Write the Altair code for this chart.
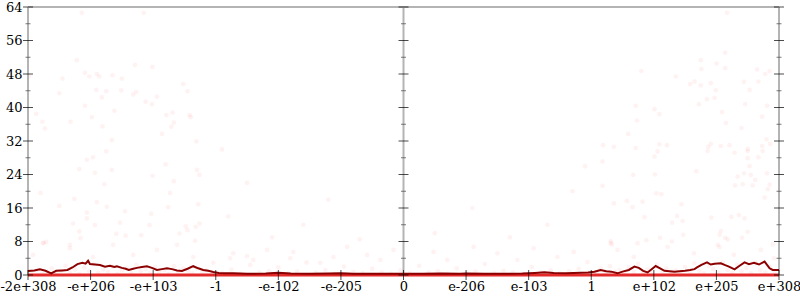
import altair as alt
import pandas as pd

# ---- axis ticks / labels ----
x_tick_values = [-6, -5, -4, -3, -2, -1, 0, 1, 2, 3, 4, 5, 6]
x_tick_labels = ["-2e+308", "-e+206", "-e+103", "-1", "-e-102", "-e-205", "0",
                 "e-206", "e-103", "1", "e+102", "e+205", "e+308"]
y_major = [0, 8, 16, 24, 32, 40, 48, 56, 64]
y_minor = [4, 12, 20, 28, 36, 44, 52, 60]
vertical_axes_at = [-6, 0, 6]

# ---- mean error line ----
line_x = [-6.00, -5.90, -5.81, -5.72, -5.63, -5.55, -5.45, -5.37, -5.29, -5.21, -5.13, -5.08,
          -5.04, -5.01, -4.93, -4.85, -4.77, -4.69, -4.62, -4.58, -4.50, -4.44, -4.39, -4.32,
          -4.26, -4.18, -4.10, -4.02, -3.94, -3.86, -3.78, -3.70, -3.62, -3.54, -3.45, -3.36,
          -3.28, -3.20, -3.12, -3.04, -2.95, -2.85, -2.72, -2.50, -2.20, -2.00, -1.80, -1.50,
          -1.20, -1.00, -0.80, -0.50, -0.20, 0.00, 0.30, 0.60, 0.90, 1.00, 1.30, 1.60, 1.90,
          2.10, 2.25, 2.40, 2.60, 2.83, 2.95, 3.05, 3.15, 3.24, 3.32, 3.42, 3.50, 3.60, 3.69,
          3.76, 3.83, 3.90, 3.96, 4.03, 4.10, 4.17, 4.25, 4.33, 4.41, 4.50, 4.58, 4.65, 4.69,
          4.76, 4.85, 4.91, 4.97, 5.07, 5.13, 5.20, 5.29, 5.37, 5.45, 5.52, 5.60, 5.68, 5.77,
          5.85, 5.90, 6.00]
line_y = [0.95, 1.1, 1.35, 1.0, 0.4, 1.0, 1.1, 1.2, 1.8, 2.6, 2.9, 2.7,
          3.4, 2.6, 2.5, 2.4, 2.0, 2.2, 1.9, 2.1, 1.7, 1.5, 1.2, 1.5,
          1.7, 1.9, 2.1, 1.7, 1.2, 1.4, 1.6, 1.4, 1.1, 0.95, 1.5, 2.1,
          1.6, 1.2, 1.0, 0.7, 0.5, 0.4, 0.4, 0.3, 0.35, 0.55, 0.35, 0.3,
          0.35, 0.4, 0.3, 0.3, 0.3, 0.3, 0.3, 0.35, 0.3, 0.35, 0.3, 0.3, 0.35,
          0.5, 0.65, 0.5, 0.4, 0.55, 0.6, 0.8, 1.2, 0.9, 0.8, 0.4, 0.8, 1.2, 2.0,
          1.7, 1.0, 0.6, 1.3, 2.15, 1.6, 1.0, 0.9, 0.8, 0.9, 1.0, 1.2, 1.4, 1.8,
          2.4, 3.0, 2.5, 2.7, 2.8, 2.4, 2.0, 1.35, 2.2, 3.0, 2.6, 2.9, 2.5, 3.2,
          1.6, 1.2, 1.2]

# ---- sampled error points (scattered, high) ----
pts_x = [-5.14, -4.15, -5.22, -5.09, -4.90, -5.02, -4.86, -4.65, -4.50, -4.29, -4.01, -5.45,
         -5.50, -4.91, -4.75, -4.82, -4.51, -4.32, -4.27, -4.12, -4.02, -3.94, -5.09, -4.62,
         -5.87, -5.77, -5.73, -5.32, -4.98, -4.81, -4.66, -3.86, -3.79, -3.69, -3.67, -3.71,
         -3.42, -3.40, -3.52, -3.45, -3.31, -5.98,
         5.17, 5.14, 4.75, 5.00, 4.76, 5.14, 3.80, 4.35, 5.65, 5.78, 5.85, 4.65, 4.58, 4.75,
         4.91, 5.44, 5.67, 4.99, 5.53, 4.97, 4.85, 4.72, 5.46, 5.81, 3.71, 4.01, 4.09, 5.09,
         5.73, 3.73, 5.15, 5.40, 3.59, 3.19, 3.36, 3.71, 4.09, 4.21, 4.91, 4.87, 5.07, 5.21,
         5.50, 5.73, 5.80, 5.86,
         3.18, 4.01, 4.06, 4.86, 5.29, 5.50, 5.74, 5.50, 5.67, 5.53, 3.67, 4.02, 4.68, 5.34,
         5.44, 5.55, 5.62, 5.81, 5.30, 5.42, 5.58, 5.85, 5.82, 5.77, 3.18, 4.04, 4.12, 3.36,
         3.57, 3.82, 3.66, 4.44, 3.85, 4.37, 4.46, 4.29, 4.92, 5.24, 5.36, 5.45, 5.07, 5.05,
         5.14, 5.18, 5.50, 5.41, 4.47, 4.10, 4.29, 3.88, 3.74, 3.31, 3.33, 5.05, 5.90,
         -4.75, -5.06, -4.96, -5.18, -4.93, -4.66, -4.78, -3.80, -4.01, -3.67, -3.73, -3.30,
         -3.26, -5.80, -5.50, -5.26, -4.90, -4.74, -4.45, -5.06, -5.06, -4.03, -3.76, -3.28,
         -5.28, -4.93, -4.53, -4.06, -5.18, -5.16, -4.59, -4.44, -4.19, -3.58, -3.48, -3.45,
         -3.32, -3.26, -5.75, -5.71, -5.33, -3.33,
         -3.04, -2.77, -2.72, -2.50, -2.40, -2.18, -1.81, -1.76, -1.33, -1.12, -0.90, -0.58,
         -0.37, -0.16, 0.48, 0.70, 1.12, 1.50, 1.82, 2.08, 2.46, 2.72, 2.94, 3.31, 3.42, 3.68,
         4.22, 4.64, 5.02, 5.28, 5.71, 5.92, -5.76, -5.33, -4.64, -4.32, -3.94, -3.62, -3.36,
         -5.92, -4.96,
         -2.80, -2.50, -2.10, -1.60, -1.20, -0.70, 0.50, 1.10, 1.70, 2.30, 2.70, -2.90, 2.90]
pts_y = [62.6, 62.6, 51.3, 48.3, 48.0, 47.4, 47.4, 47.7, 46.9, 50.2, 49.7, 46.9,
         43.4, 44.2, 43.9, 42.4, 44.1, 43.1, 43.7, 41.4, 40.8, 42.6, 40.4, 39.2,
         38.5, 36.6, 35.0, 36.6, 37.7, 35.5, 32.2, 33.7, 38.2, 38.8, 36.4, 35.4,
         38.2, 37.7, 45.6, 43.9, 31.9, 47.5,
         62.6, 53.1, 51.3, 50.5, 49.2, 49.4, 48.7, 47.4, 49.1, 48.0, 48.7, 46.2, 45.6, 45.3,
         45.8, 46.1, 46.2, 44.1, 44.2, 42.3, 42.0, 40.8, 40.8, 40.4, 40.4, 39.6, 38.4, 38.9,
         37.8, 36.9, 36.3, 35.1, 33.7, 31.0, 30.6, 30.3, 31.2, 31.0, 31.3, 30.6, 30.8, 31.0,
         30.1, 30.8, 32.4, 31.3,
         27.1, 28.3, 29.5, 29.6, 29.2, 29.6, 29.6, 27.9, 28.1, 26.0, 23.9, 24.0, 24.8, 23.5,
         24.3, 23.9, 22.7, 24.3, 21.4, 21.7, 21.4, 21.6, 20.5, 18.5, 21.3, 19.5, 19.3, 17.1,
         17.7, 17.5, 16.2, 16.9, 13.8, 14.1, 12.9, 12.5, 13.7, 13.9, 14.3, 13.5, 10.5, 9.6,
         8.9, 8.5, 10.3, 8.9, 9.6, 8.9, 8.0, 8.3, 7.6, 8.1, 7.3, 6.7, 7.3,
         29.5, 27.5, 28.1, 25.3, 24.4, 25.1, 21.7, 26.4, 23.7, 22.4, 19.6, 25.1,
         23.9, 19.6, 16.5, 18.2, 17.4, 16.3, 15.2, 14.9, 13.5, 14.6, 16.2, 16.9,
         12.3, 11.9, 12.5, 11.9, 10.4, 8.8, 9.8, 9.4, 9.5, 9.9, 11.6, 10.7,
         11.5, 12.3, 7.7, 7.9, 7.2, 8.2,
         2.9, 4.0, 5.2, 4.5, 3.6, 6.0, 4.0, 5.5, 2.9, 4.3, 6.7, 4.8,
         3.6, 6.0, 5.5, 3.6, 6.7, 5.2, 3.6, 6.4, 4.3, 5.5, 3.1, 7.6, 6.0, 4.3,
         6.7, 5.2, 7.2, 4.8, 6.0, 4.0, 7.6, 6.4, 7.2, 4.8, 6.0, 7.2, 4.3,
         4.8, 4.3,
         14.0, 22.0, 9.0, 12.0, 18.0, 8.5, 10.0, 16.0, 9.0, 12.0, 20.0, 30.0, 26.0]

# ---- sampled error points (dense, low) ----
low_x = [-5.95, -5.85, -5.78, -5.70, -5.62, -5.55, -5.48, -5.40, -5.33, -5.25, -5.18, -5.10,
         -5.02, -4.95, -4.88, -4.80, -4.72, -4.65, -4.57, -4.50, -4.42, -4.35, -4.27, -4.20,
         -4.12, -4.05, -3.97, -3.90, -3.82, -3.75, -3.67, -3.60, -3.52, -3.44, -3.37, -3.30,
         -3.22, -3.15,
         -2.90, -2.75, -2.60, -2.45, -2.30, -2.15, -2.00, -1.85, -1.70, -1.55, -1.40, -1.25,
         -1.10, -0.95, -0.80, -0.65, -0.50, -0.35, -0.20, -0.05, 0.10, 0.25, 0.40, 0.55, 0.70,
         0.85, 1.00, 1.15, 1.30, 1.45, 1.60, 1.75, 1.90, 2.05, 2.20, 2.35, 2.50, 2.65, 2.80,
         2.95,
         3.08, 3.15, 3.23, 3.30, 3.38, 3.45, 3.53, 3.60, 3.68, 3.75, 3.83, 3.90, 3.98, 4.05,
         4.13, 4.20, 4.28, 4.35, 4.43, 4.50, 4.58, 4.65, 4.73, 4.80, 4.88, 4.95, 5.03, 5.10,
         5.18, 5.25, 5.33, 5.40, 5.48, 5.55, 5.63, 5.70, 5.78, 5.85, 5.93]
low_y = [0.5, 1.2, 0.3, 0.8, 1.6, 0.4, 1.0, 2.2, 0.6, 1.4, 0.2, 1.8,
         0.9, 2.6, 0.5, 1.3, 0.7, 2.0, 0.3, 1.1, 1.7, 0.5, 2.4, 0.9,
         1.4, 0.4, 1.9, 0.8, 1.2, 0.3, 2.1, 0.6, 1.5, 0.9, 0.4, 1.6,
         0.7, 1.1,
         0.5, 1.3, 0.3, 2.4, 0.6, 0.9, 1.8, 0.4, 0.8, 3.0, 0.5, 1.2,
         0.3, 2.0, 0.7, 0.4, 1.5, 0.6, 0.3, 1.1, 0.4, 2.2, 0.6, 0.9, 0.3,
         1.6, 0.5, 0.8, 2.6, 0.4, 1.0, 0.6, 0.3, 1.9, 0.7, 1.2, 0.4, 0.9, 1.5,
         0.5,
         0.6, 1.5, 0.4, 2.1, 0.8, 1.2, 0.3, 1.8, 0.7, 2.6, 0.5, 1.3, 0.9, 2.4,
         0.4, 1.6, 0.8, 1.1, 0.3, 1.9, 0.6, 2.8, 1.0, 0.4, 2.2, 1.4, 0.6, 3.0,
         1.2, 0.5, 2.5, 0.9, 1.7, 0.4, 2.9, 1.1, 0.6, 2.0, 0.8]

# zero-error samples (exact results) span the whole domain at y = 0
zero_x_start, zero_x_end, zero_y = -6, 6, 0

# ---------------- build ----------------
XS = alt.Scale(domain=[-6, 6], nice=False, zero=False)
YS = alt.Scale(domain=[0, 64], nice=False, zero=False)

pts_df = pd.DataFrame({"x": pts_x + low_x, "y": pts_y + low_y})
line_df = pd.DataFrame({"x": line_x, "y": line_y})
zero_df = pd.DataFrame({"x": [zero_x_start], "x2": [zero_x_end], "y": [zero_y]})

label_expr = "[" + ",".join('"%s"' % s for s in x_tick_labels) + "][datum.value + 6]"

x_axis = alt.Axis(values=x_tick_values, labelExpr=label_expr, title=None,
                  ticks=False, domain=False, grid=False, labelPadding=5,
                  labelFont="DejaVu Serif", labelFontSize=13, labelColor="black",
                  labelOverlap=False, labelBound=False, labelFlush=False)
y_axis = alt.Axis(values=y_major, title=None, ticks=False, domain=False, grid=False,
                  labelPadding=6, labelFont="DejaVu Serif", labelFontSize=13,
                  labelColor="black", labelOverlap=False, labelBound=False,
                  labelFlush=False)


def X(field="x"):
    return alt.X(field + ":Q", scale=XS, axis=x_axis)


def Y(field="y"):
    return alt.Y(field + ":Q", scale=YS, axis=y_axis)


points = alt.Chart(pts_df).mark_circle(size=22, color="#ff1a1a", opacity=0.06).encode(
    x=X(), y=Y())

zero_band = alt.Chart(zero_df).mark_rule(color="#e42a2a", strokeWidth=3).encode(
    x=X(), x2="x2:Q", y=Y())

mean_line = alt.Chart(line_df).mark_line(color="#8b0000", strokeWidth=2).encode(
    x=X(), y=Y())

# axis lines (vertical at -6, 0, 6; horizontal at 0 and 64)
vax_df = pd.DataFrame({"x": vertical_axes_at, "y": [0] * 3, "y2": [64] * 3})
hax_df = pd.DataFrame({"x": [-6, -6], "x2": [6, 6], "y": [0, 64]})
vaxes = alt.Chart(vax_df).mark_rule(color="#b4b4b4", strokeWidth=2).encode(
    x=X(), y=Y(), y2="y2:Q")
haxes = alt.Chart(hax_df).mark_rule(color="#b4b4b4", strokeWidth=2).encode(
    x=X(), x2="x2:Q", y=Y())

# centred ticks on the vertical axes and on the bottom axis
ymaj_df = pd.DataFrame([{"x": a, "y": v} for a in vertical_axes_at for v in y_major])
ymin_df = pd.DataFrame([{"x": a, "y": v} for a in vertical_axes_at for v in y_minor])
ymaj_ticks = alt.Chart(ymaj_df).mark_tick(orient="horizontal", size=10, thickness=1,
                                          color="black").encode(x=X(), y=Y())
ymin_ticks = alt.Chart(ymin_df).mark_tick(orient="horizontal", size=5, thickness=1,
                                          color="#444444").encode(x=X(), y=Y())
xmaj_df = pd.DataFrame({"x": x_tick_values, "y": [0] * len(x_tick_values)})
xmaj_ticks = alt.Chart(xmaj_df).mark_tick(orient="vertical", size=10, thickness=1,
                                          color="black").encode(x=X(), y=Y())

chart = alt.layer(points, vaxes, haxes, zero_band, mean_line,
                  ymaj_ticks, ymin_ticks, xmaj_ticks).properties(
    width=751, height=268,
    autosize=alt.AutoSizeParams(type="none"),
    padding={"left": 28, "top": 7, "right": 21, "bottom": 25},
    background="white",
).configure_view(stroke=None).configure_axis(labelOverlap=False)

chart.save("out.html", embed_options={"renderer": "svg", "actions": False})
